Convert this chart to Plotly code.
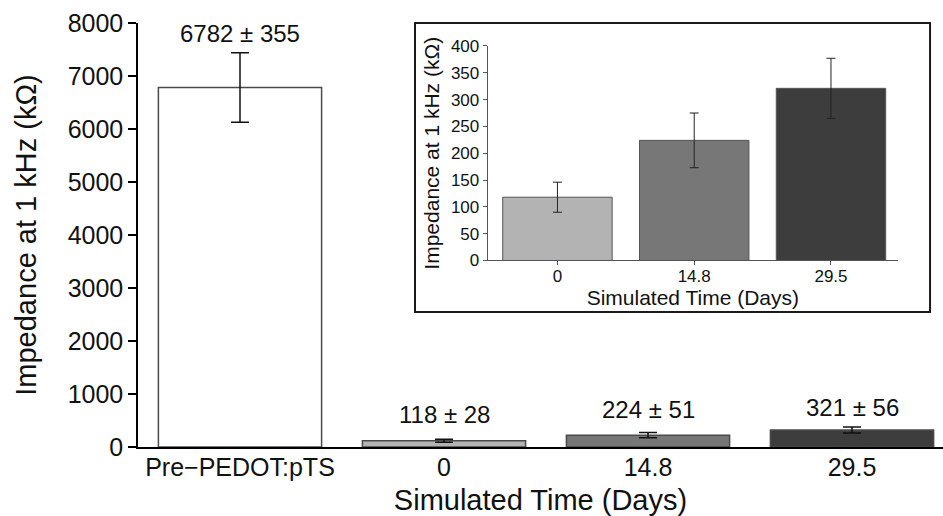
import plotly.graph_objects as go

# Impedance at 1 kHz for each group
groups = ["Pre\u2212PEDOT:pTS", "0", "14.8", "29.5"]
means = [6782, 118, 224, 321]
label_err = [355, 28, 51, 56]   # spread printed in the value labels
bar_err = [655, 28, 51, 56]     # whisker half-lengths drawn on the bars

inset_days = ["0", "14.8", "29.5"]
inset_means = [118, 224, 321]
inset_err = [28, 51, 56]

y_ticks = [0, 1000, 2000, 3000, 4000, 5000, 6000, 7000, 8000]
inset_y_ticks = [0, 50, 100, 150, 200, 250, 300, 350, 400]

bar_colors = ["#ffffff", "#b3b3b3", "#777777", "#3d3d3d"]
inset_colors = bar_colors[1:]
label_lift = [19, 25, 23, 20]   # pixel gap between whisker top and value label

FONT = "Liberation Sans, Arial, Helvetica, sans-serif"

fig = go.Figure()

fig.add_trace(go.Bar(
    x=groups, y=means,
    marker=dict(color=bar_colors, line=dict(color="#4a4a4a", width=1.5)),
    error_y=dict(type="data", array=bar_err, color="#111111",
                 thickness=1.5, width=9),
    xaxis="x", yaxis="y", showlegend=False, hoverinfo="skip",
))

fig.add_trace(go.Bar(
    x=inset_days, y=inset_means,
    marker=dict(color=inset_colors, line=dict(color="#555555", width=1)),
    error_y=dict(type="data", array=inset_err, color="#222222",
                 thickness=1, width=4.5),
    xaxis="x2", yaxis="y2", showlegend=False, hoverinfo="skip",
))

# value labels above the main bars (category axis -> position by index)
for i, (m, e, be, lift) in enumerate(zip(means, label_err, bar_err, label_lift)):
    fig.add_annotation(
        x=i, y=m + be, xref="x", yref="y",
        text=f"{m} \u00b1 {e}", showarrow=False,
        yanchor="middle", yshift=lift,
        font=dict(family=FONT, size=24, color="#111111"),
    )

# framed white panel behind the inset axes
fig.add_shape(
    type="rect", xref="paper", yref="paper",
    x0=0.3441, x1=0.9839, y0=0.3184, y1=1.0,
    line=dict(color="#1a1a1a", width=2), fillcolor="white", layer="below",
)

fig.update_layout(
    width=943, height=516,
    margin=dict(l=138, r=0, t=23, b=69),
    paper_bgcolor="white", plot_bgcolor="white",
    bargap=0.2,
    font=dict(family=FONT, color="#111111"),
    xaxis=dict(
        type="category", range=[-0.5, 3.446],
        showline=True, linecolor="#000000", linewidth=2,
        ticks="", showgrid=False, zeroline=False,
        ticklabelstandoff=-3,
        tickfont=dict(size=25),
        title=dict(text="Simulated Time (Days)", font=dict(size=29), standoff=12),
    ),
    yaxis=dict(
        range=[0, 8000], tickvals=y_ticks,
        showline=True, linecolor="#000000", linewidth=1.5,
        ticks="outside", ticklen=8, tickwidth=1.5, tickcolor="#000000",
        showgrid=False, zeroline=False,
        tickfont=dict(size=25),
        title=dict(text="Impedance at 1 kHz (k\u03a9)", font=dict(size=29), standoff=22),
    ),
    xaxis2=dict(
        domain=[0.4344, 0.9441], anchor="y2",
        type="category", range=[-0.51, 2.49],
        showline=True, linecolor="#555555", linewidth=1,
        ticks="outside", ticklen=4, tickwidth=1, tickcolor="#555555",
        showgrid=False, zeroline=False,
        ticklabelstandoff=-4,
        tickfont=dict(size=17),
        title=dict(text="Simulated Time (Days)", font=dict(size=21), standoff=0),
    ),
    yaxis2=dict(
        domain=[0.4399, 0.9458], anchor="x2",
        range=[0, 400], tickvals=inset_y_ticks,
        showline=True, linecolor="#555555", linewidth=1,
        ticks="outside", ticklen=4, tickwidth=1, tickcolor="#555555",
        showgrid=False, zeroline=False,
        tickfont=dict(size=17),
        title=dict(text="Impedance at 1 kHz (k\u03a9)", font=dict(size=21), standoff=5),
    ),
)

fig.write_html("out.html")
